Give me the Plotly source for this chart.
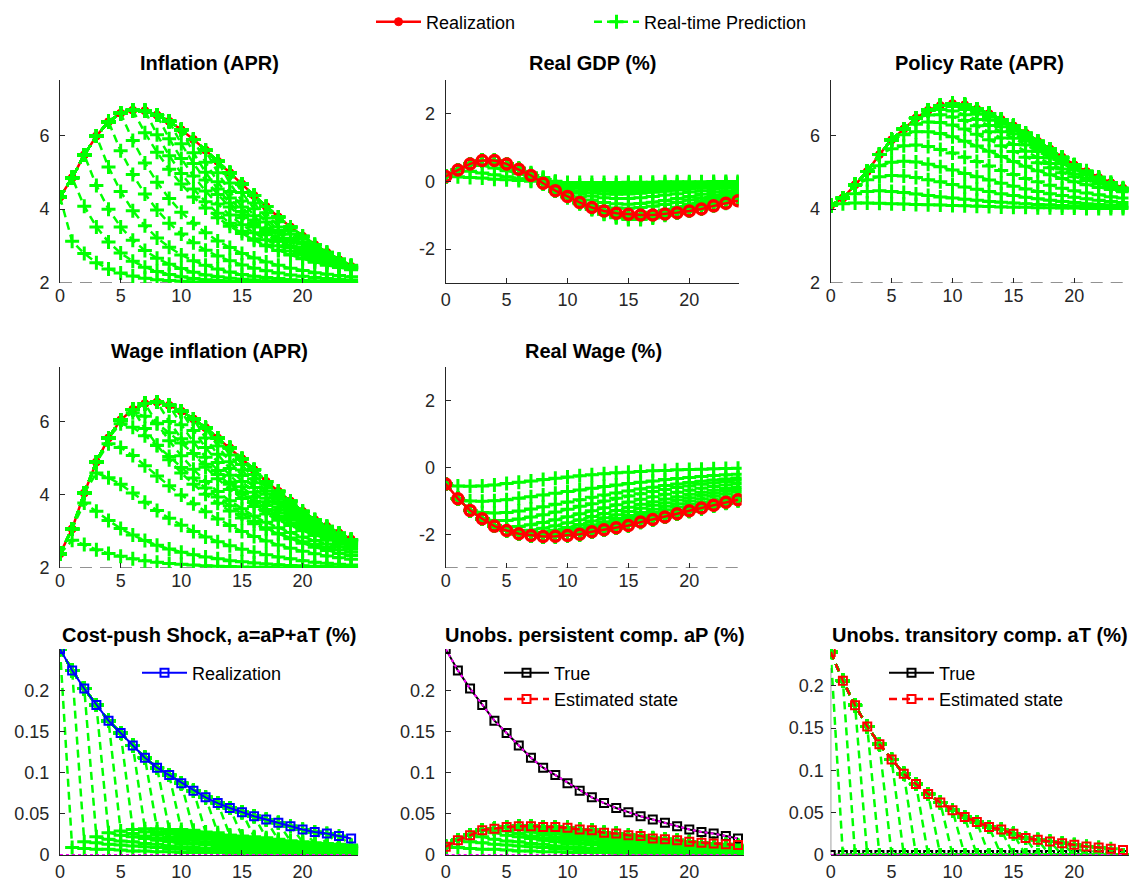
import plotly.graph_objects as go
from plotly.subplots import make_subplots

# the html page keeps an 8px body margin at the top and left, so the figure is
# made 8px smaller than the window and every position below is in window pixels
PAGE_W = 1145
PAGE_H = 884
OFF = 8
W = PAGE_W - OFF
H = PAGE_H - OFF
GREEN = "#00ff00"
RED = "#ff0000"
BLUE = "#0000ff"
MAGENTA = "#ff00ff"
DARK = "#262626"
FONT = "Arial, Liberation Sans, sans-serif"

horizon = list(range(25))

# realizations, quarters 0..24
infl_real = [4.33, 4.85, 5.47, 5.98, 6.37, 6.6, 6.68, 6.67, 6.55, 6.38, 6.15, 5.89, 5.6,
             5.3, 4.99, 4.68, 4.37, 4.07, 3.79, 3.52, 3.27, 3.04, 2.83, 2.63, 2.45]
gdp_real = [0.15, 0.34, 0.52, 0.62, 0.62, 0.52, 0.36, 0.18, -0.05, -0.27, -0.44, -0.62, -0.77,
            -0.87, -0.94, -0.97, -0.99, -0.99, -0.96, -0.92, -0.87, -0.81, -0.72, -0.64, -0.57]
rate_real = [4.1, 4.3, 4.66, 5.02, 5.48, 5.88, 6.17, 6.47, 6.68, 6.81, 6.86, 6.83, 6.71,
             6.59, 6.43, 6.26, 6.06, 5.84, 5.63, 5.41, 5.2, 5.02, 4.86, 4.72, 4.57]
wage_real = [2.39, 3.07, 4.05, 4.9, 5.56, 6.05, 6.34, 6.5, 6.54, 6.45, 6.29, 6.08, 5.84,
             5.56, 5.29, 4.99, 4.69, 4.37, 4.1, 3.83, 3.55, 3.32, 3.14, 2.96, 2.79]
rwage_real = [-0.49, -0.93, -1.28, -1.53, -1.75, -1.88, -1.98, -2.03, -2.06, -2.05, -2.03, -1.99, -1.92,
              -1.86, -1.8, -1.73, -1.63, -1.55, -1.48, -1.38, -1.29, -1.21, -1.13, -1.04, -0.96]

shock_real = [0.25, 0.224, 0.202, 0.182, 0.163, 0.148, 0.133, 0.118, 0.106, 0.097, 0.087, 0.078, 0.07,
              0.063, 0.057, 0.052, 0.047, 0.043, 0.039, 0.035, 0.031, 0.028, 0.026, 0.023, 0.02]
aP_true = [0.25, 0.224, 0.202, 0.182, 0.163, 0.148, 0.133, 0.118, 0.106, 0.097, 0.087, 0.078, 0.07,
           0.063, 0.057, 0.052, 0.047, 0.043, 0.039, 0.035, 0.031, 0.028, 0.026, 0.023, 0.02]
aP_est = [0.01, 0.018, 0.024, 0.03, 0.032, 0.034, 0.035, 0.035, 0.034, 0.034, 0.033, 0.031, 0.03,
          0.027, 0.026, 0.024, 0.023, 0.02, 0.019, 0.018, 0.016, 0.015, 0.014, 0.013, 0.012]
aT_true = [0.0] * 25
aT_est = [0.24, 0.206, 0.177, 0.152, 0.131, 0.113, 0.096, 0.084, 0.072, 0.062, 0.053, 0.045, 0.039,
          0.033, 0.03, 0.025, 0.02, 0.018, 0.016, 0.014, 0.012, 0.01, 0.009, 0.0075, 0.006]

# real-time predictions: row t is the path forecast at quarter t (starts at x = t)
infl_pred = [
    [4.33, 3.13, 2.8, 2.55, 2.38, 2.27, 2.19, 2.13, 2.09, 2.07, 2.05, 2.03, 2.02, 2.02, 2.01, 2.01, 2.0, 2.0, 2.0, 2.0, 2.0, 2.0, 2.0, 2.0, 2.0],
    [4.85, 4.08, 3.52, 3.11, 2.81, 2.59, 2.43, 2.31, 2.23, 2.17, 2.12, 2.09, 2.07, 2.05, 2.04, 2.03, 2.02, 2.01, 2.01, 2.01, 2.0, 2.0, 2.0, 2.0],
    [5.47, 4.64, 4.0, 3.52, 3.16, 2.88, 2.67, 2.51, 2.39, 2.29, 2.22, 2.17, 2.13, 2.1, 2.08, 2.06, 2.04, 2.03, 2.03, 2.02, 2.02, 2.01, 2.01],
    [5.98, 5.14, 4.48, 3.96, 3.55, 3.22, 2.97, 2.76, 2.6, 2.48, 2.38, 2.3, 2.23, 2.18, 2.15, 2.12, 2.09, 2.07, 2.06, 2.04, 2.04, 2.03],
    [6.37, 5.58, 4.94, 4.41, 3.98, 3.62, 3.33, 3.09, 2.89, 2.73, 2.6, 2.49, 2.4, 2.33, 2.27, 2.22, 2.18, 2.15, 2.12, 2.1, 2.08],
    [6.6, 5.86, 5.25, 4.73, 4.29, 3.92, 3.62, 3.36, 3.14, 2.96, 2.8, 2.68, 2.57, 2.48, 2.4, 2.34, 2.28, 2.24, 2.2, 2.17],
    [6.68, 6.07, 5.54, 5.08, 4.68, 4.33, 4.03, 3.77, 3.54, 3.34, 3.16, 3.01, 2.88, 2.77, 2.67, 2.58, 2.5, 2.44, 2.38],
    [6.67, 6.02, 5.45, 4.97, 4.55, 4.2, 3.89, 3.62, 3.4, 3.2, 3.03, 2.89, 2.76, 2.66, 2.56, 2.48, 2.42, 2.36],
    [6.55, 5.91, 5.37, 4.9, 4.49, 4.14, 3.84, 3.58, 3.36, 3.17, 3.01, 2.87, 2.75, 2.64, 2.55, 2.48, 2.41],
    [6.38, 5.77, 5.24, 4.79, 4.4, 4.06, 3.77, 3.52, 3.31, 3.13, 2.97, 2.83, 2.72, 2.62, 2.53, 2.46],
    [6.15, 5.53, 5.0, 4.55, 4.17, 3.84, 3.57, 3.33, 3.13, 2.96, 2.82, 2.7, 2.59, 2.5, 2.43],
    [5.89, 5.27, 4.74, 4.3, 3.94, 3.63, 3.37, 3.15, 2.96, 2.81, 2.68, 2.57, 2.48, 2.4],
    [5.6, 4.99, 4.48, 4.06, 3.71, 3.42, 3.18, 2.98, 2.81, 2.67, 2.56, 2.46, 2.38],
    [5.3, 4.71, 4.22, 3.82, 3.49, 3.22, 3.0, 2.82, 2.67, 2.55, 2.45, 2.37],
    [4.99, 4.45, 4.01, 3.65, 3.35, 3.11, 2.91, 2.75, 2.61, 2.5, 2.41],
    [4.68, 4.17, 3.76, 3.42, 3.15, 2.93, 2.76, 2.61, 2.5, 2.4],
    [4.37, 3.9, 3.52, 3.21, 2.97, 2.78, 2.62, 2.5, 2.4],
    [4.07, 3.66, 3.32, 3.06, 2.85, 2.68, 2.54, 2.43],
    [3.79, 3.41, 3.12, 2.88, 2.7, 2.55, 2.43],
    [3.52, 3.2, 2.95, 2.75, 2.59, 2.45],
    [3.27, 3.0, 2.79, 2.62, 2.47],
    [3.04, 2.82, 2.65, 2.48],
    [2.83, 2.65, 2.47],
    [2.63, 2.47],
]
gdp_pred = [
    [0.15, 0.14, 0.12, 0.1, 0.07, 0.05, 0.03, 0.01, -0.01, -0.02, -0.03, -0.03, -0.03, -0.03, -0.03, -0.02, -0.02, -0.02, -0.01, -0.01, -0.01, -0.01, 0.0, 0.0, 0.0],
    [0.34, 0.3, 0.25, 0.2, 0.14, 0.08, 0.03, -0.02, -0.05, -0.08, -0.1, -0.1, -0.1, -0.1, -0.09, -0.08, -0.07, -0.06, -0.05, -0.05, -0.04, -0.03, -0.03, -0.02],
    [0.52, 0.47, 0.4, 0.32, 0.23, 0.14, 0.06, -0.02, -0.08, -0.12, -0.15, -0.17, -0.17, -0.16, -0.15, -0.14, -0.12, -0.11, -0.09, -0.08, -0.07, -0.06, -0.05],
    [0.62, 0.56, 0.47, 0.36, 0.24, 0.12, 0.01, -0.08, -0.15, -0.2, -0.23, -0.24, -0.24, -0.22, -0.2, -0.18, -0.16, -0.14, -0.12, -0.1, -0.08, -0.07],
    [0.62, 0.52, 0.4, 0.26, 0.12, -0.01, -0.12, -0.2, -0.26, -0.29, -0.3, -0.3, -0.28, -0.26, -0.23, -0.2, -0.18, -0.15, -0.13, -0.11, -0.09],
    [0.52, 0.38, 0.23, 0.08, -0.06, -0.18, -0.27, -0.33, -0.37, -0.38, -0.37, -0.35, -0.32, -0.29, -0.25, -0.22, -0.19, -0.16, -0.13, -0.11],
    [0.36, 0.2, 0.04, -0.11, -0.24, -0.35, -0.43, -0.48, -0.5, -0.5, -0.48, -0.44, -0.4, -0.36, -0.31, -0.27, -0.23, -0.19, -0.16],
    [0.18, 0.0, -0.17, -0.32, -0.45, -0.55, -0.62, -0.66, -0.67, -0.65, -0.61, -0.56, -0.5, -0.44, -0.38, -0.32, -0.27, -0.22],
    [-0.05, -0.25, -0.42, -0.56, -0.67, -0.74, -0.78, -0.79, -0.77, -0.73, -0.68, -0.62, -0.55, -0.48, -0.41, -0.35, -0.29],
    [-0.27, -0.48, -0.66, -0.8, -0.9, -0.96, -0.98, -0.96, -0.91, -0.84, -0.76, -0.67, -0.58, -0.5, -0.42, -0.35],
    [-0.44, -0.65, -0.83, -0.96, -1.05, -1.1, -1.1, -1.06, -0.99, -0.9, -0.8, -0.7, -0.6, -0.51, -0.43],
    [-0.62, -0.82, -0.97, -1.07, -1.12, -1.12, -1.08, -1.0, -0.91, -0.81, -0.71, -0.61, -0.52, -0.44],
    [-0.77, -0.92, -1.02, -1.07, -1.08, -1.04, -0.97, -0.88, -0.78, -0.68, -0.59, -0.5, -0.42],
    [-0.87, -0.97, -1.02, -1.03, -0.99, -0.92, -0.83, -0.73, -0.63, -0.54, -0.46, -0.39],
    [-0.94, -1.0, -1.01, -0.97, -0.9, -0.81, -0.71, -0.61, -0.52, -0.44, -0.37],
    [-0.97, -0.98, -0.94, -0.87, -0.78, -0.68, -0.58, -0.49, -0.41, -0.34],
    [-0.99, -0.95, -0.88, -0.79, -0.69, -0.59, -0.5, -0.42, -0.35],
    [-0.99, -0.91, -0.81, -0.71, -0.61, -0.52, -0.44, -0.37],
    [-0.96, -0.85, -0.74, -0.63, -0.54, -0.46, -0.39],
    [-0.92, -0.79, -0.67, -0.57, -0.48, -0.41],
    [-0.87, -0.73, -0.61, -0.51, -0.43],
    [-0.81, -0.67, -0.55, -0.46],
    [-0.72, -0.59, -0.48],
    [-0.64, -0.52],
]
rate_pred = [
    [4.1, 4.15, 4.17, 4.17, 4.16, 4.15, 4.14, 4.13, 4.12, 4.11, 4.1, 4.09, 4.08, 4.07, 4.06, 4.05, 4.05, 4.04, 4.04, 4.03, 4.03, 4.02, 4.02, 4.02, 4.02],
    [4.3, 4.42, 4.48, 4.5, 4.48, 4.45, 4.41, 4.37, 4.33, 4.3, 4.27, 4.24, 4.21, 4.19, 4.17, 4.15, 4.13, 4.12, 4.1, 4.09, 4.08, 4.07, 4.06, 4.05],
    [4.66, 4.8, 4.88, 4.91, 4.9, 4.86, 4.8, 4.74, 4.67, 4.6, 4.54, 4.48, 4.42, 4.37, 4.32, 4.28, 4.24, 4.21, 4.18, 4.15, 4.13, 4.11, 4.1],
    [5.02, 5.18, 5.27, 5.3, 5.28, 5.22, 5.15, 5.06, 4.97, 4.88, 4.79, 4.7, 4.62, 4.55, 4.48, 4.42, 4.37, 4.32, 4.28, 4.24, 4.21, 4.18],
    [5.48, 5.64, 5.72, 5.74, 5.7, 5.62, 5.52, 5.41, 5.29, 5.17, 5.05, 4.94, 4.83, 4.74, 4.65, 4.57, 4.5, 4.44, 4.39, 4.34, 4.3],
    [5.88, 6.02, 6.1, 6.1, 6.05, 5.96, 5.84, 5.71, 5.57, 5.43, 5.29, 5.16, 5.04, 4.93, 4.83, 4.74, 4.66, 4.59, 4.53, 4.47],
    [6.17, 6.3, 6.36, 6.35, 6.28, 6.17, 6.03, 5.88, 5.72, 5.56, 5.41, 5.26, 5.12, 4.99, 4.88, 4.78, 4.69, 4.61, 4.54],
    [6.47, 6.55, 6.56, 6.5, 6.4, 6.26, 6.1, 5.93, 5.75, 5.57, 5.4, 5.24, 5.09, 4.95, 4.83, 4.72, 4.62, 4.53],
    [6.68, 6.7, 6.66, 6.56, 6.43, 6.27, 6.1, 5.92, 5.74, 5.56, 5.39, 5.23, 5.07, 4.93, 4.8, 4.68, 4.56],
    [6.81, 6.78, 6.7, 6.57, 6.41, 6.23, 6.04, 5.85, 5.66, 5.48, 5.3, 5.13, 4.97, 4.82, 4.68, 4.55],
    [6.86, 6.78, 6.65, 6.49, 6.31, 6.11, 5.91, 5.71, 5.51, 5.32, 5.14, 4.97, 4.81, 4.67, 4.54],
    [6.83, 6.7, 6.54, 6.36, 6.16, 5.95, 5.74, 5.54, 5.34, 5.15, 4.98, 4.82, 4.67, 4.53],
    [6.71, 6.56, 6.39, 6.2, 6.0, 5.8, 5.6, 5.4, 5.21, 5.04, 4.87, 4.72, 4.58],
    [6.59, 6.4, 6.2, 5.99, 5.78, 5.57, 5.37, 5.18, 5.0, 4.83, 4.68, 4.54],
    [6.43, 6.23, 6.02, 5.81, 5.6, 5.4, 5.2, 5.02, 4.85, 4.69, 4.55],
    [6.26, 6.04, 5.82, 5.6, 5.39, 5.19, 5.0, 4.83, 4.67, 4.53],
    [6.06, 5.83, 5.61, 5.4, 5.2, 5.01, 4.83, 4.67, 4.52],
    [5.84, 5.61, 5.4, 5.2, 5.01, 4.83, 4.67, 4.52],
    [5.63, 5.4, 5.19, 5.0, 4.82, 4.66, 4.51],
    [5.41, 5.19, 4.99, 4.81, 4.65, 4.5],
    [5.2, 4.99, 4.8, 4.64, 4.5],
    [5.02, 4.83, 4.66, 4.5],
    [4.86, 4.68, 4.52],
    [4.72, 4.55],
]
wage_pred = [
    [2.39, 2.76, 2.64, 2.5, 2.4, 2.32, 2.25, 2.2, 2.16, 2.12, 2.1, 2.08, 2.06, 2.05, 2.04, 2.03, 2.02, 2.02, 2.01, 2.01, 2.0, 2.0, 2.0, 2.0, 2.0],
    [3.07, 3.78, 3.55, 3.3, 3.08, 2.9, 2.75, 2.62, 2.52, 2.43, 2.36, 2.3, 2.25, 2.2, 2.17, 2.14, 2.11, 2.09, 2.07, 2.06, 2.05, 2.04, 2.03, 2.02],
    [4.05, 4.6, 4.47, 4.29, 4.05, 3.8, 3.57, 3.36, 3.17, 3.0, 2.85, 2.72, 2.61, 2.51, 2.43, 2.36, 2.3, 2.25, 2.2, 2.16, 2.13, 2.1, 2.08],
    [4.9, 5.4, 5.3, 5.08, 4.8, 4.52, 4.25, 4.0, 3.76, 3.54, 3.34, 3.16, 3.0, 2.86, 2.74, 2.63, 2.54, 2.46, 2.39, 2.33, 2.28, 2.24],
    [5.56, 5.95, 5.85, 5.62, 5.35, 5.05, 4.75, 4.46, 4.19, 3.94, 3.7, 3.48, 3.28, 3.1, 2.94, 2.8, 2.68, 2.57, 2.48, 2.4, 2.34],
    [6.05, 6.25, 6.15, 5.95, 5.7, 5.42, 5.13, 4.84, 4.56, 4.29, 4.03, 3.79, 3.57, 3.37, 3.19, 3.03, 2.89, 2.76, 2.65, 2.56],
    [6.34, 5.82, 5.36, 4.96, 4.6, 4.29, 4.02, 3.77, 3.56, 3.37, 3.21, 3.06, 2.94, 2.82, 2.72, 2.64, 2.56, 2.49, 2.43],
    [6.5, 5.96, 5.48, 5.07, 4.7, 4.37, 4.09, 3.84, 3.62, 3.42, 3.25, 3.1, 2.97, 2.85, 2.75, 2.66, 2.58, 2.51],
    [6.54, 6.01, 5.54, 5.13, 4.76, 4.44, 4.15, 3.9, 3.68, 3.48, 3.31, 3.16, 3.02, 2.9, 2.8, 2.7, 2.62],
    [6.45, 5.92, 5.45, 5.03, 4.67, 4.35, 4.07, 3.82, 3.6, 3.41, 3.24, 3.09, 2.96, 2.84, 2.74, 2.65],
    [6.29, 5.76, 5.3, 4.89, 4.54, 4.22, 3.95, 3.71, 3.5, 3.32, 3.15, 3.01, 2.89, 2.78, 2.68],
    [6.08, 5.56, 5.11, 4.72, 4.37, 4.07, 3.81, 3.58, 3.38, 3.2, 3.05, 2.92, 2.8, 2.7],
    [5.84, 5.34, 4.91, 4.53, 4.2, 3.91, 3.66, 3.45, 3.26, 3.1, 2.95, 2.83, 2.72],
    [5.56, 5.09, 4.68, 4.33, 4.02, 3.75, 3.52, 3.32, 3.15, 3.0, 2.87, 2.75],
    [5.29, 4.83, 4.44, 4.1, 3.81, 3.56, 3.34, 3.15, 2.99, 2.86, 2.74],
    [4.99, 4.56, 4.19, 3.88, 3.61, 3.37, 3.18, 3.01, 2.86, 2.74],
    [4.69, 4.29, 3.95, 3.66, 3.42, 3.21, 3.03, 2.88, 2.75],
    [4.37, 4.01, 3.71, 3.46, 3.24, 3.05, 2.89, 2.76],
    [4.1, 3.78, 3.5, 3.27, 3.08, 2.91, 2.77],
    [3.83, 3.55, 3.31, 3.11, 2.94, 2.78],
    [3.55, 3.32, 3.12, 2.95, 2.78],
    [3.32, 3.13, 2.95, 2.78],
    [3.14, 2.96, 2.78],
    [2.96, 2.78],
]
rwage_pred = [
    [-0.49, -0.55, -0.56, -0.55, -0.52, -0.48, -0.44, -0.4, -0.36, -0.32, -0.28, -0.25, -0.22, -0.19, -0.16, -0.14, -0.12, -0.1, -0.09, -0.07, -0.06, -0.05, -0.04, -0.03, -0.02],
    [-0.93, -1.0, -1.01, -0.99, -0.96, -0.92, -0.87, -0.82, -0.77, -0.72, -0.67, -0.62, -0.57, -0.52, -0.48, -0.44, -0.4, -0.36, -0.33, -0.3, -0.27, -0.24, -0.22, -0.2],
    [-1.28, -1.34, -1.36, -1.34, -1.3, -1.24, -1.17, -1.1, -1.03, -0.96, -0.89, -0.82, -0.76, -0.7, -0.64, -0.59, -0.54, -0.49, -0.45, -0.41, -0.37, -0.34, -0.31],
    [-1.53, -1.58, -1.58, -1.54, -1.48, -1.41, -1.33, -1.25, -1.16, -1.08, -1.0, -0.92, -0.85, -0.78, -0.72, -0.66, -0.6, -0.55, -0.5, -0.46, -0.42, -0.38],
    [-1.75, -1.78, -1.76, -1.71, -1.64, -1.56, -1.47, -1.38, -1.29, -1.2, -1.11, -1.03, -0.95, -0.87, -0.8, -0.74, -0.68, -0.62, -0.57, -0.52, -0.48],
    [-1.88, -1.9, -1.87, -1.81, -1.74, -1.65, -1.56, -1.46, -1.37, -1.28, -1.19, -1.1, -1.02, -0.94, -0.87, -0.8, -0.74, -0.68, -0.63, -0.58],
    [-1.98, -1.97, -1.93, -1.87, -1.79, -1.7, -1.6, -1.5, -1.41, -1.31, -1.22, -1.13, -1.05, -0.97, -0.9, -0.83, -0.77, -0.71, -0.66],
    [-2.03, -2.0, -1.95, -1.88, -1.8, -1.71, -1.62, -1.52, -1.43, -1.34, -1.25, -1.16, -1.08, -1.0, -0.93, -0.86, -0.8, -0.74],
    [-2.06, -2.01, -1.95, -1.87, -1.79, -1.7, -1.61, -1.52, -1.43, -1.34, -1.26, -1.18, -1.1, -1.03, -0.96, -0.9, -0.84],
    [-2.05, -1.99, -1.92, -1.85, -1.77, -1.69, -1.6, -1.52, -1.44, -1.36, -1.28, -1.2, -1.13, -1.06, -0.99, -0.93],
    [-2.03, -1.96, -1.89, -1.81, -1.73, -1.65, -1.57, -1.49, -1.41, -1.33, -1.25, -1.18, -1.1, -1.03, -0.95],
    [-1.99, -1.92, -1.84, -1.76, -1.68, -1.6, -1.52, -1.44, -1.36, -1.28, -1.2, -1.12, -1.05, -0.97],
    [-1.92, -1.84, -1.76, -1.68, -1.6, -1.52, -1.44, -1.36, -1.28, -1.2, -1.12, -1.04, -0.96],
    [-1.86, -1.78, -1.7, -1.62, -1.54, -1.46, -1.38, -1.3, -1.22, -1.14, -1.06, -0.98],
    [-1.8, -1.71, -1.62, -1.54, -1.46, -1.38, -1.3, -1.22, -1.14, -1.06, -0.98],
    [-1.73, -1.64, -1.55, -1.47, -1.39, -1.31, -1.23, -1.15, -1.07, -0.99],
    [-1.63, -1.54, -1.46, -1.38, -1.3, -1.22, -1.14, -1.06, -0.98],
    [-1.55, -1.46, -1.38, -1.3, -1.22, -1.14, -1.06, -0.98],
    [-1.48, -1.39, -1.3, -1.22, -1.14, -1.06, -0.98],
    [-1.38, -1.29, -1.21, -1.13, -1.05, -0.97],
    [-1.29, -1.2, -1.12, -1.04, -0.96],
    [-1.21, -1.13, -1.05, -0.97],
    [-1.13, -1.05, -0.97],
    [-1.04, -0.96],
]
aP_pred = [
    [0.01, 0.009, 0.008, 0.007, 0.007, 0.006, 0.005, 0.005, 0.004, 0.004, 0.003, 0.003, 0.003, 0.003, 0.002, 0.002, 0.002, 0.002, 0.002, 0.001, 0.001, 0.001, 0.001, 0.001, 0.001],
    [0.018, 0.016, 0.015, 0.013, 0.012, 0.011, 0.01, 0.009, 0.008, 0.007, 0.006, 0.006, 0.005, 0.005, 0.004, 0.004, 0.003, 0.003, 0.003, 0.002, 0.002, 0.002, 0.002, 0.002],
    [0.024, 0.022, 0.019, 0.017, 0.016, 0.014, 0.013, 0.011, 0.01, 0.009, 0.008, 0.007, 0.007, 0.006, 0.005, 0.005, 0.004, 0.004, 0.003, 0.003, 0.003, 0.003, 0.002],
    [0.03, 0.027, 0.024, 0.022, 0.02, 0.018, 0.016, 0.014, 0.013, 0.012, 0.01, 0.009, 0.008, 0.008, 0.007, 0.006, 0.006, 0.005, 0.005, 0.004, 0.004, 0.003],
    [0.032, 0.029, 0.026, 0.023, 0.021, 0.019, 0.017, 0.015, 0.014, 0.012, 0.011, 0.01, 0.009, 0.008, 0.007, 0.007, 0.006, 0.005, 0.005, 0.004, 0.004],
    [0.034, 0.031, 0.028, 0.025, 0.022, 0.02, 0.018, 0.016, 0.015, 0.013, 0.012, 0.011, 0.01, 0.009, 0.008, 0.007, 0.006, 0.006, 0.005, 0.005],
    [0.035, 0.032, 0.028, 0.026, 0.023, 0.021, 0.019, 0.017, 0.015, 0.014, 0.012, 0.011, 0.01, 0.009, 0.008, 0.007, 0.007, 0.006, 0.005],
    [0.035, 0.032, 0.028, 0.026, 0.023, 0.021, 0.019, 0.017, 0.015, 0.014, 0.012, 0.011, 0.01, 0.009, 0.008, 0.007, 0.007, 0.006],
    [0.034, 0.031, 0.028, 0.025, 0.022, 0.02, 0.018, 0.016, 0.015, 0.013, 0.012, 0.011, 0.01, 0.009, 0.008, 0.007, 0.006],
    [0.034, 0.031, 0.028, 0.025, 0.022, 0.02, 0.018, 0.016, 0.015, 0.013, 0.012, 0.011, 0.01, 0.009, 0.008, 0.007],
    [0.033, 0.03, 0.027, 0.024, 0.022, 0.019, 0.018, 0.016, 0.014, 0.013, 0.011, 0.01, 0.009, 0.008, 0.008],
    [0.031, 0.028, 0.025, 0.023, 0.02, 0.018, 0.016, 0.015, 0.013, 0.012, 0.011, 0.01, 0.009, 0.008],
    [0.03, 0.027, 0.024, 0.022, 0.02, 0.018, 0.016, 0.014, 0.013, 0.012, 0.01, 0.009, 0.008],
    [0.027, 0.024, 0.022, 0.02, 0.018, 0.016, 0.014, 0.013, 0.012, 0.01, 0.009, 0.008],
    [0.026, 0.023, 0.021, 0.019, 0.017, 0.015, 0.014, 0.012, 0.011, 0.01, 0.009],
    [0.024, 0.022, 0.019, 0.017, 0.016, 0.014, 0.013, 0.011, 0.01, 0.009],
    [0.023, 0.021, 0.019, 0.017, 0.015, 0.014, 0.012, 0.011, 0.01],
    [0.02, 0.018, 0.016, 0.015, 0.013, 0.012, 0.011, 0.01],
    [0.019, 0.017, 0.015, 0.014, 0.012, 0.011, 0.01],
    [0.018, 0.016, 0.015, 0.013, 0.012, 0.011],
    [0.016, 0.014, 0.013, 0.012, 0.01],
    [0.015, 0.014, 0.012, 0.011],
    [0.014, 0.013, 0.011],
    [0.013, 0.012],
]
# the shock forecast is the observed shock followed by the forecast persistent part;
# the transitory part is expected to vanish after the current quarter
shock_pred = [shock_real[t:t + 1] + aP_pred[t][1:] for t in range(len(aP_pred))]
aT_pred = [aT_est[t:t + 1] + aT_true[t + 1:] for t in range(len(aP_pred))]

fig = make_subplots(rows=3, cols=3)


def add_pred(hist, pred, row, col, first=False):
    for t, path in enumerate(pred):
        y = hist[:t] + path
        fig.add_trace(go.Scatter(
            x=horizon[:len(y)], y=y, mode="lines+markers",
            line=dict(color=GREEN, width=2.5, dash="8px,5px"),
            marker=dict(symbol="cross-thin", size=10, line=dict(color=GREEN, width=3)),
            name="Real-time Prediction", legendgroup="pred",
            showlegend=first and t == 0, hoverinfo="skip"), row=row, col=col)


def add_real(real, row, col, first=False, hollow=False):
    fig.add_trace(go.Scatter(
        x=horizon, y=real, mode="lines+markers",
        line=dict(color=RED, width=2.5),
        marker=dict(symbol="circle-open" if hollow else "circle", size=10 if hollow else 8,
                    color=RED, line=dict(color=RED, width=3.5 if hollow else 1)),
        name="Realization", showlegend=first, hoverinfo="skip"), row=row, col=col)


def add_flat(y, row, col):
    fig.add_trace(go.Scatter(
        x=horizon, y=y, mode="lines", line=dict(color=MAGENTA, width=2, dash="dot"),
        showlegend=False, hoverinfo="skip"), row=row, col=col)


add_real(infl_real, 1, 1, first=True)
add_pred(infl_real, infl_pred, 1, 1, first=True)
add_pred(gdp_real, gdp_pred, 1, 2)
add_real(gdp_real, 1, 2, hollow=True)
add_real(rate_real, 1, 3)
add_pred(rate_real, rate_pred, 1, 3)
add_real(wage_real, 2, 1)
add_pred(wage_real, wage_pred, 2, 1)
add_pred(rwage_real, rwage_pred, 2, 2)
add_real(rwage_real, 2, 2, hollow=True)

# cost-push shock
add_pred(shock_real, shock_pred, 3, 1)
fig.add_trace(go.Scatter(
    x=horizon, y=shock_real, mode="lines+markers", line=dict(color=BLUE, width=2),
    marker=dict(symbol="square-open", size=8, color=BLUE, line=dict(color=BLUE, width=2)),
    name="Realization", legend="legend2", hoverinfo="skip"), row=3, col=1)
add_flat(aT_true, 3, 1)

# persistent component
add_pred(aP_est, aP_pred, 3, 2)
fig.add_trace(go.Scatter(
    x=horizon, y=aP_true, mode="lines+markers", line=dict(color="black", width=2),
    marker=dict(symbol="square-open", size=8, color="black", line=dict(color="black", width=2)),
    name="True", legend="legend3", hoverinfo="skip"), row=3, col=2)
add_flat(aP_true, 3, 2)
add_flat(aT_true, 3, 2)
fig.add_trace(go.Scatter(
    x=horizon, y=aP_est, mode="lines+markers", line=dict(color=RED, width=2.5, dash="8px,5px"),
    marker=dict(symbol="square-open", size=8, color=RED, line=dict(color=RED, width=2)),
    name="Estimated state", legend="legend3", hoverinfo="skip"), row=3, col=2)

# transitory component
fig.add_trace(go.Scatter(
    x=horizon, y=aT_true, mode="lines+markers", line=dict(color="black", width=2),
    marker=dict(symbol="square-open", size=8, color="black", line=dict(color="black", width=2)),
    name="True", legend="legend4", hoverinfo="skip"), row=3, col=3)
add_pred(aT_est, aT_pred, 3, 3)
fig.add_trace(go.Scatter(
    x=horizon, y=aT_est, mode="lines+markers", line=dict(color=RED, width=2.5, dash="8px,5px"),
    marker=dict(symbol="square-open", size=8, color=RED, line=dict(color=RED, width=2)),
    name="Estimated state", legend="legend4", hoverinfo="skip"), row=3, col=3)
add_flat(aT_true, 3, 3)

# axes placement in window pixels, matched to the original figure
col_px = [60, 445.7, 830.7]
col_ppu = [12.13, 12.18, 12.18]
row_px = [(80, 283), (367, 568), (649, 855)]
x_max = {1: 24.6, 2: 24.05, 3: 24.45, 4: 24.6, 5: 24.3, 7: 24.6, 8: 24.45, 9: 24.45}
small = ["0", "0.05", "0.1", "0.15", "0.2"]
y_axes = {
    1: ([2, 7.5], [2, 4, 6], ["2", "4", "6"]),
    2: ([-3, 3], [-2, 0, 2], ["-2", "0", "2"]),
    3: ([2, 7.5], [2, 4, 6], ["2", "4", "6"]),
    4: ([2, 7.5], [2, 4, 6], ["2", "4", "6"]),
    5: ([-3, 3], [-2, 0, 2], ["-2", "0", "2"]),
    7: ([0, 0.25], [0, 0.05, 0.1, 0.15, 0.2], small),
    8: ([0, 0.25], [0, 0.05, 0.1, 0.15, 0.2], small),
    9: ([0, 0.2435], [0, 0.05, 0.1, 0.15, 0.2], small),
}
titles = {
    1: "Inflation (APR)", 2: "Real GDP (%)", 3: "Policy Rate (APR)",
    4: "Wage inflation (APR)", 5: "Real Wage (%)",
    7: "Cost-push Shock, a=aP+aT (%)", 8: "Unobs. persistent comp. aP (%)",
    9: "Unobs. transitory comp. aT (%)",
}
title_y = [63, 351, 635]
dashed_base = [1, 3, 4, 5]


def fx(p):
    return (p - OFF) / W


def fy(p):
    return 1 - (p - OFF) / H


tick_font = dict(family=FONT, size=18, color=DARK)
annotations = []
shapes = []
for i in range(1, 10):
    r, c = (i - 1) // 3, (i - 1) % 3
    xname = "xaxis" if i == 1 else f"xaxis{i}"
    yname = "yaxis" if i == 1 else f"yaxis{i}"
    if i not in y_axes:
        fig.layout[xname].visible = False
        fig.layout[yname].visible = False
        continue
    x0 = col_px[c]
    x1 = x0 + x_max[i] * col_ppu[c]
    top, bot = row_px[r]
    yr, yt, ytt = y_axes[i]
    fig.layout[xname].update(
        domain=[fx(x0), fx(x1)], range=[0, x_max[i]], tickvals=[0, 5, 10, 15, 20],
        showgrid=False, zeroline=False, showline=i not in dashed_base,
        linecolor=DARK, linewidth=1, ticks="inside", ticklen=5, tickcolor=DARK,
        tickfont=tick_font)
    fig.layout[yname].update(
        domain=[fy(bot), fy(top)], range=yr, tickvals=yt, ticktext=ytt,
        showgrid=False, zeroline=False, showline=i != 9,
        linecolor=DARK, linewidth=1, ticks="inside", ticklen=5, tickcolor=DARK,
        tickfont=tick_font, ticklabelstandoff=6)
    annotations.append(dict(
        text=titles[i], x=fx((x0 + x1) / 2), y=fy(title_y[r]), xref="paper", yref="paper",
        xanchor="center", yanchor="middle", showarrow=False,
        font=dict(family=FONT, size=20, color="black", weight="bold")))
    sfx = "" if i == 1 else str(i)
    if i in dashed_base:
        shapes.append(dict(type="line", xref="x" + sfx, yref="y" + sfx, x0=0, x1=x_max[i],
                           y0=yr[0], y1=yr[0], layer="below",
                           line=dict(color=DARK, width=1.2, dash="12px,8px")))
    if i == 9:
        shapes.append(dict(type="line", xref="x9", yref="y9", x0=0, x1=0, y0=0, y1=0.221,
                           line=dict(color=DARK, width=1)))

leg_font = dict(family=FONT, size=18, color="black")
fig.update_layout(
    width=W, height=H, margin=dict(l=0, r=0, t=0, b=0, autoexpand=False),
    paper_bgcolor="white", plot_bgcolor="white",
    font=dict(family=FONT, color=DARK),
    annotations=annotations, shapes=shapes,
    legend=dict(orientation="h", x=fx(371), y=fy(22), xanchor="left", yanchor="middle",
                font=leg_font, bgcolor="rgba(0,0,0,0)", itemwidth=45,
                entrywidth=158),
    legend2=dict(x=fx(137), y=fy(673), xanchor="left", yanchor="middle",
                 font=leg_font, bgcolor="rgba(0,0,0,0)", itemwidth=45),
    legend3=dict(x=fx(499), y=fy(686), xanchor="left", yanchor="middle",
                 font=leg_font, bgcolor="rgba(0,0,0,0)", itemwidth=45, tracegroupgap=0),
    legend4=dict(x=fx(884), y=fy(686), xanchor="left", yanchor="middle",
                 font=leg_font, bgcolor="rgba(0,0,0,0)", itemwidth=45, tracegroupgap=0),
)

fig.write_html("out.html")
